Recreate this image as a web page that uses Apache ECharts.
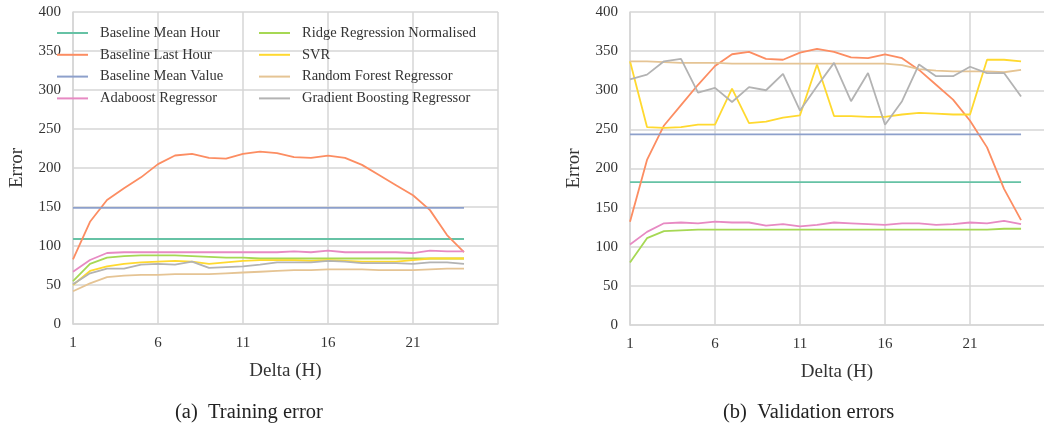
<!DOCTYPE html>
<html>
<head>
<meta charset="utf-8">
<title>Training / validation error</title>
<script src="https://cdn.jsdelivr.net/npm/echarts@6/dist/echarts.min.js"></script>
<style>
    html, body { margin: 0; padding: 0; background: #fff; }
    #chart { width: 1044px; height: 424px; }
</style>
</head>
<body>
<div id="chart"></div>
<script>
// x = Delta (H)
var hours = [1,2,3,4,5,6,7,8,9,10,11,12,13,14,15,16,17,18,19,20,21,22,23,24];
var names = ['Baseline Mean Hour', 'Baseline Last Hour', 'Baseline Mean Value', 'Adaboost Regressor',
             'Ridge Regression Normalised', 'SVR', 'Random Forest Regressor', 'Gradient Boosting Regressor'];

// (a) training error
var trainMeanHour  = [109,109,109,109,109,109,109,109,109,109,109,109,109,109,109,109,109,109,109,109,109,109,109,109];
var trainLastHour  = [83,131,159,174,188,205,216,218,213,212,218,221,219,214,213,216,213,204,191,178,165,146,114,92];
var trainMeanValue = [149,149,149,149,149,149,149,149,149,149,149,149,149,149,149,149,149,149,149,149,149,149,149,149];
var trainAdaboost  = [67,82,91,92,92,92,92,92,92,92,92,92,92,93,92,94,92,92,92,92,91,94,93,93];
var trainRidge     = [55,77,85,87,88,88,88,87,86,85,85,84,84,84,84,84,84,84,84,84,84,84,84,84];
var trainSvr       = [50,68,74,77,79,80,81,80,77,79,81,82,82,82,81,82,81,80,80,80,82,84,84,84];
var trainRf        = [42,52,60,62,63,63,64,64,64,65,66,67,68,69,69,70,70,70,69,69,69,70,71,71];
var trainGb        = [51,65,71,71,76,77,76,80,72,73,74,76,79,79,79,81,80,78,78,78,77,79,79,77];

// (b) validation errors
var valMeanHour  = [182.5,182.5,182.5,182.5,182.5,182.5,182.5,182.5,182.5,182.5,182.5,182.5,182.5,182.5,182.5,182.5,182.5,182.5,182.5,182.5,182.5,182.5,182.5,182.5];
var valLastHour  = [132,211,255,281,307,331,346,349,340,339,348,353,349,342,341,346,341,326,307,288,261,227,174,134];
var valMeanValue = [243.5,243.5,243.5,243.5,243.5,243.5,243.5,243.5,243.5,243.5,243.5,243.5,243.5,243.5,243.5,243.5,243.5,243.5,243.5,243.5,243.5,243.5,243.5,243.5];
var valAdaboost  = [103,119,130,131,130,132,131,131,127,129,126,128,131,130,129,128,130,130,128,129,131,130,133,129];
var valRidge     = [80,111,120,121,122,122,122,122,122,122,122,122,122,122,122,122,122,122,122,122,122,122,123,123];
var valSvr       = [337,253,252,253,256,256,302,258,260,265,268,333,267,267,266,266,269,271,270,269,269,339,339,337];
var valRf        = [337,337,336,335,335,335,334,334,334,334,334,334,334,334,334,334,332,327,325,324,324,324,323,326];
var valGb        = [314,320,337,340,297,303,285,304,300,321,274,305,335,286,322,256,286,333,318,318,330,322,322,292];

var colors = ['#66c2a5','#fc8d62','#8da0cb','#e78ac3','#a6d854','#ffd92f','#e5c494','#b3b3b3'];
var FONT = "'Liberation Serif', 'DejaVu Serif', serif";
var GRIDC = '#d6d6d6';

var trainSets = [trainMeanHour, trainLastHour, trainMeanValue, trainAdaboost, trainRidge, trainSvr, trainRf, trainGb];
var valSets = [valMeanHour, valLastHour, valMeanValue, valAdaboost, valRidge, valSvr, valRf, valGb];

function pairs(arr) {
    return arr.map(function (v, i) { return [hours[i], v]; });
}

// right panel is cut by the page edge in the original, so its axis stops short of 26
function xAxisOf(gi, xmax) {
    return {
        type: 'value', gridIndex: gi, min: 1, max: xmax, interval: 5,
        name: 'Delta (H)', nameLocation: 'middle', nameGap: 38,
        nameTextStyle: { fontFamily: FONT, fontSize: 19, color: '#333' },
        axisLine: { show: true, lineStyle: { color: GRIDC, width: 1.5 } },
        axisTick: { show: false },
        axisLabel: { fontFamily: FONT, fontSize: 15, color: '#333', margin: 12, showMaxLabel: false },
        splitLine: { show: true, showMaxLine: gi === 0, lineStyle: { color: GRIDC, width: 1.5 } }
    };
}
function yAxisOf(gi) {
    return {
        type: 'value', gridIndex: gi, min: 0, max: 400, interval: 50,
        name: 'Error', nameLocation: 'middle', nameGap: 46,
        nameTextStyle: { fontFamily: FONT, fontSize: 19, color: '#333' },
        axisLine: { show: true, lineStyle: { color: GRIDC, width: 1.5 } },
        axisTick: { show: false },
        axisLabel: { fontFamily: FONT, fontSize: 15, color: '#333', margin: 12 },
        splitLine: { show: true, lineStyle: { color: GRIDC, width: 1.5 } }
    };
}

var series = [];
[trainSets, valSets].forEach(function (sets, gi) {
    sets.forEach(function (arr, k) {
        series.push({
            name: names[k], type: 'line', xAxisIndex: gi, yAxisIndex: gi,
            data: pairs(arr), showSymbol: false, symbol: 'none',
            lineStyle: { color: colors[k], width: 1.8 }, itemStyle: { color: colors[k] },
            animation: false
        });
    });
});

function legendOf(left, data) {
    return {
        orient: 'vertical', left: left, top: 25, itemGap: 5.8, padding: 0,
        itemWidth: 31, itemHeight: 2, icon: 'rect',
        textStyle: { fontFamily: FONT, fontSize: 14.5, color: '#333', lineHeight: 16, padding: [0, 0, 0, 7] },
        data: data
    };
}

var chart = echarts.init(document.getElementById('chart'));
chart.setOption({
    color: colors,
    animation: false,
    grid: [
        { left: 73, right: 546, top: 12, bottom: 100 },
        { left: 630, right: 0, top: 12, bottom: 99 }
    ],
    xAxis: [xAxisOf(0, 26), xAxisOf(1, 25.35)],
    yAxis: [yAxisOf(0), yAxisOf(1)],
    legend: [legendOf(57, names.slice(0, 4)), legendOf(259, names.slice(4))],
    graphic: [
        { type: 'text', left: 175, top: 402, style: { text: '(a)  Training error', font: '20.5px ' + FONT, fill: '#222' } },
        { type: 'text', left: 723, top: 402, style: { text: '(b)  Validation errors', font: '20.5px ' + FONT, fill: '#222' } }
    ],
    series: series
});
</script>
</body>
</html>
